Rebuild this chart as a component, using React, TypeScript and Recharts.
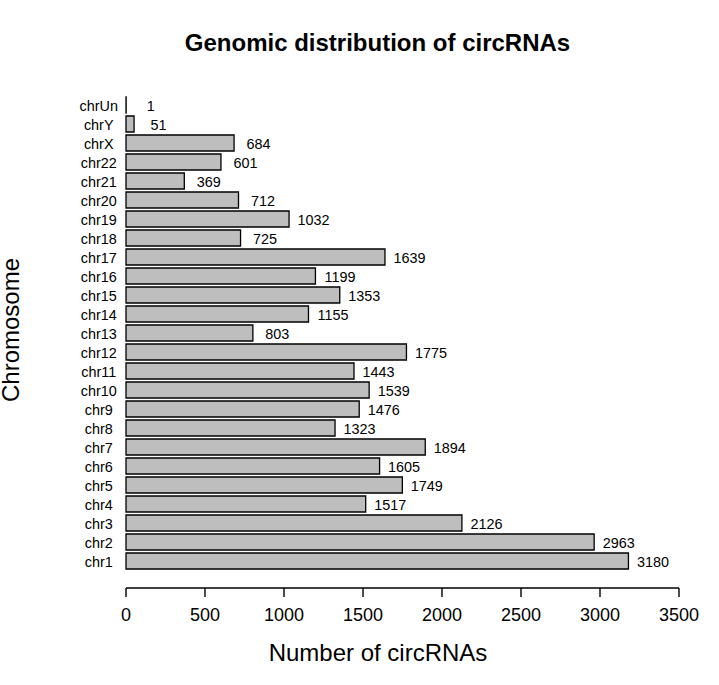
import React from "react";
import { BarChart, Bar, XAxis, YAxis, LabelList } from "recharts";

// chromosomes from bottom (chr1) to top (chrUn)
const chromosomes = [
  "chr1", "chr2", "chr3", "chr4", "chr5", "chr6", "chr7", "chr8",
  "chr9", "chr10", "chr11", "chr12", "chr13", "chr14", "chr15", "chr16",
  "chr17", "chr18", "chr19", "chr20", "chr21", "chr22", "chrX", "chrY", "chrUn",
];
const counts = [
  3180, 2963, 2126, 1517, 1749, 1605, 1894, 1323,
  1476, 1539, 1443, 1775, 803, 1155, 1353, 1199,
  1639, 725, 1032, 712, 369, 601, 684, 51, 1,
];
const xTicks = [0, 500, 1000, 1500, 2000, 2500, 3000, 3500];

const data = chromosomes.map((chr, i) => ({ chr, count: counts[i] }));

const FONT = '"Liberation Sans", Arial, sans-serif';

function ChrTick(props: any) {
  const { x, y, payload } = props;
  return (
    <text
      x={x - 27.3}
      y={y + 1}
      dy="0.355em"
      textAnchor="middle"
      fontSize={14.4}
      fontFamily={FONT}
      fill="#000"
    >
      {payload.value}
    </text>
  );
}

function ValueLabel(props: any) {
  const { x, y, width, height, value } = props;
  return (
    <text
      x={x + width + 24.5}
      y={y + height / 2 + 0.5}
      dy="0.355em"
      textAnchor="middle"
      fontSize={14.4}
      fontFamily={FONT}
      fill="#000"
    >
      {value}
    </text>
  );
}

export default function App() {
  return (
    <div
      style={{
        position: "absolute",
        left: 0,
        top: 0,
        width: 719,
        height: 685,
        background: "#fff",
        fontFamily: FONT,
        color: "#000",
      }}
    >
      <BarChart
        width={719}
        height={685}
        data={data}
        layout="vertical"
        margin={{ top: 95, right: 40, bottom: 47, left: 0 }}
      >
        <XAxis
          type="number"
          dataKey="count"
          domain={[0, 3500]}
          ticks={xTicks}
          interval={0}
          height={50}
          axisLine={{ stroke: "#000", strokeWidth: 1.4 }}
          tickLine={{ stroke: "#000", strokeWidth: 1.4 }}
          tickSize={9}
          tickMargin={11}
          tick={{ fill: "#000", fontSize: 18, fontFamily: FONT }}
        />
        <YAxis
          type="category"
          dataKey="chr"
          reversed
          width={126}
          axisLine={false}
          tickLine={false}
          tickSize={0}
          tickMargin={0}
          interval={0}
          padding={{ top: 0, bottom: 18 }}
          tick={<ChrTick />}
        />
        <Bar
          dataKey="count"
          fill="#BEBEBE"
          stroke="#000"
          strokeWidth={1.3}
          barSize={16}
          isAnimationActive={false}
        >
          <LabelList dataKey="count" content={<ValueLabel />} />
        </Bar>
      </BarChart>
      <div
        style={{
          position: "absolute",
          left: 377.5,
          top: 42.5,
          transform: "translate(-50%, -50%)",
          fontSize: 24,
          fontWeight: "bold",
          lineHeight: 1,
          whiteSpace: "nowrap",
        }}
      >
        Genomic distribution of circRNAs
      </div>
      <div
        style={{
          position: "absolute",
          left: 378,
          top: 653,
          transform: "translate(-50%, -50%)",
          fontSize: 24,
          lineHeight: 1,
          whiteSpace: "nowrap",
        }}
      >
        Number of circRNAs
      </div>
      <svg
        width={26}
        height={200}
        style={{ position: "absolute", left: 0, top: 230 }}
      >
        <text
          transform="translate(18.5, 100) rotate(-90)"
          textAnchor="middle"
          fontSize={24}
          fontFamily={FONT}
          fill="#000"
        >
          Chromosome
        </text>
      </svg>
    </div>
  );
}
